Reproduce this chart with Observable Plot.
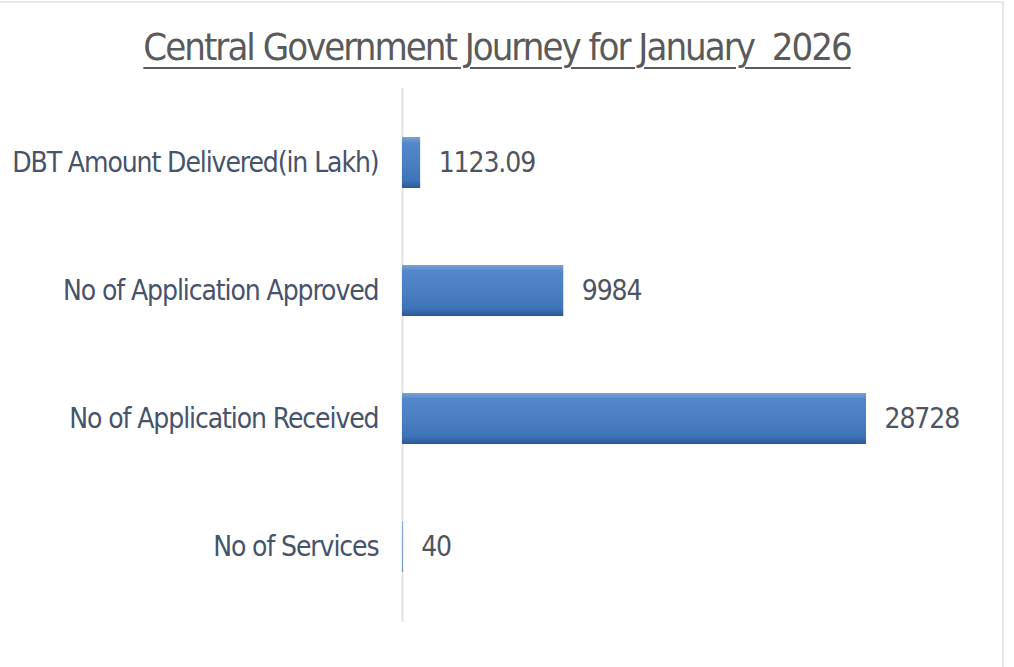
<!DOCTYPE html>
<html>
<head>
<meta charset="utf-8">
<script src="https://cdn.jsdelivr.net/npm/d3@7"></script>
<script src="https://cdn.jsdelivr.net/npm/@observablehq/plot@0.6"></script>
<style>
  html, body { margin: 0; padding: 0; background: #ffffff; }
  #wrap { position: relative; width: 1014px; height: 667px; overflow: hidden; background: #fff; }
  #frame { position: absolute; left: 0; top: 1px; width: 1002px; height: 700px; border-top: 2px solid #e6e9ee; border-right: 2px solid #e3e7ed; pointer-events: none; }
  #title {
    width: 1014px; box-sizing: border-box; padding-right: 20px; height: 80px; padding-top: 27px;
    text-align: center; font-family: "DejaVu Sans Condensed", sans-serif;
    font-size: 38px; line-height: 40px; color: #5a5a5a; white-space: pre; letter-spacing: -2px;
    text-decoration: underline; text-decoration-thickness: 2px; text-underline-offset: 7px;
    text-decoration-color: #5a5a5a;
  }
</style>
</head>
<body>
<div id="wrap">
  <div id="frame"></div>
  <div id="title"></div>
  <div id="chart"></div>
</div>
<script>
const titleText = "Central Government Journey for January  2026";
const categories = ["DBT Amount Delivered(in Lakh)", "No of Application Approved", "No of Application Received", "No of Services"];
const values = [1123.09, 9984, 28728, 40];
const valueLabels = ["1123.09", "9984", "28728", "40"];

document.getElementById("title").textContent = titleText;

const data = categories.map((c, i) => ({category: c, value: values[i], label: valueLabels[i]}));

const chart = Plot.plot({
  width: 1014,
  height: 587,
  marginLeft: 402,
  marginRight: 148,
  marginTop: 8,
  marginBottom: 45,
  x: {domain: [0, 28728], axis: null},
  y: {domain: categories, paddingInner: 0.6, paddingOuter: 0.37, axis: null},
  style: {
    fontFamily: "'DejaVu Sans Condensed', sans-serif",
    fontSize: "28px",
    background: "transparent",
    color: "#47536a",
    letterSpacing: "-1.1px"
  },
  marks: [
    Plot.ruleX([0], {stroke: "#dfe3e8", strokeWidth: 2}),
    Plot.barX(data, {x: "value", y: "category", fill: "url(#barGrad)"}),
    Plot.text(data, {x: "value", y: "category", text: "label", textAnchor: "start", dx: 18, fill: "#4f5560"}),
    Plot.axisY({tickSize: 0, tickPadding: 24, label: null, fill: "#47536a"})
  ]
});

const defs = d3.select(chart).insert("defs", ":first-child");
const g = defs.append("linearGradient").attr("id", "barGrad")
  .attr("x1", 0).attr("y1", 0).attr("x2", 0).attr("y2", 1);
[[0, "#7aa0d6"], [0.12, "#5288c9"], [0.5, "#4a80c2"], [0.85, "#3f73b8"], [1, "#2b5796"]]
  .forEach(([o, c]) => g.append("stop").attr("offset", o).attr("stop-color", c));

document.getElementById("chart").appendChild(chart);
</script>
</body>
</html>
